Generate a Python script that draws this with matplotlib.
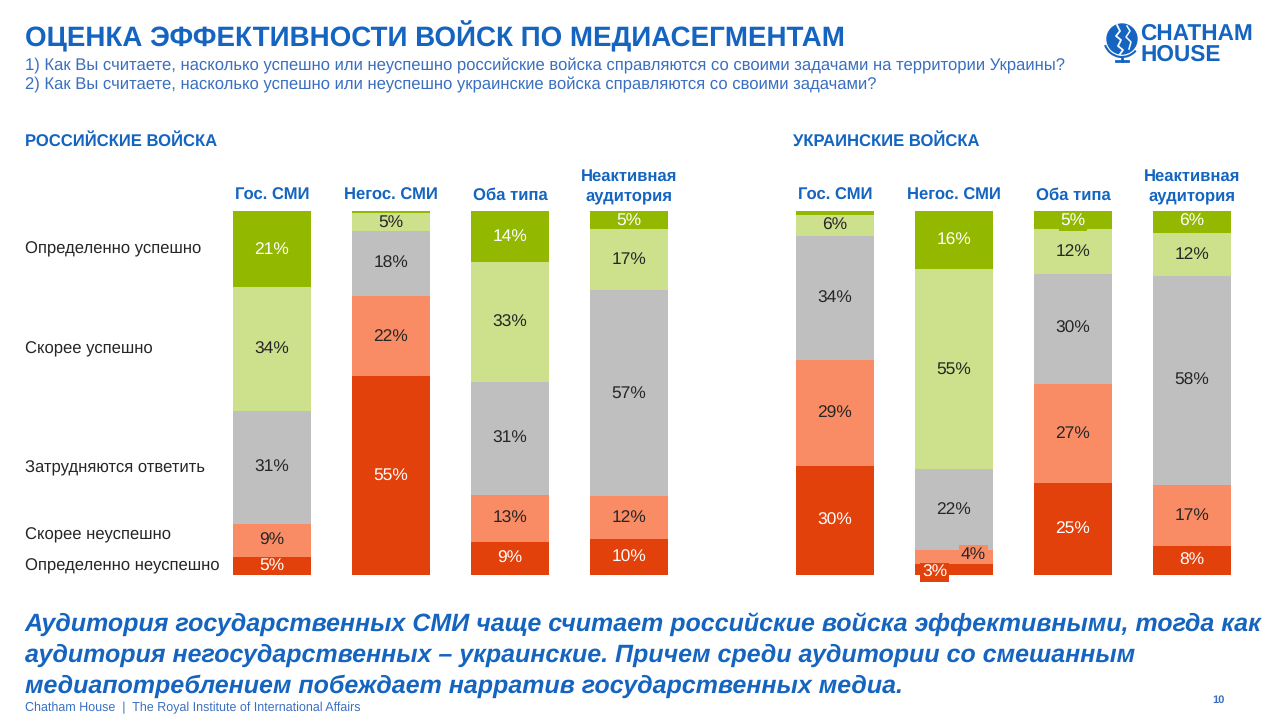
import matplotlib
matplotlib.use("Agg")
import matplotlib.pyplot as plt
import numpy as np
from matplotlib.patches import Circle, Arc

plt.rcParams['font.family'] = ['Liberation Sans', 'DejaVu Sans']
plt.rcParams['text.hinting'] = 'no_hinting'
plt.rcParams['text.hinting_factor'] = 8

# ---------------- data ----------------
groups = ["Гос. СМИ", "Негос. СМИ", "Оба типа", "Неактивная\nаудитория"]
categories = ["Определенно неуспешно", "Скорее неуспешно", "Затрудняются ответить",
              "Скорее успешно", "Определенно успешно"]
# values per category (bottom -> top), per group
rus_def_fail = [5, 55, 9, 10]
rus_rather_fail = [9, 22, 13, 12]
rus_hard = [31, 18, 31, 57]
rus_rather_ok = [34, 5, 33, 17]
rus_def_ok = [21, 0.6, 14, 5]

ukr_def_fail = [30, 3, 25, 8]
ukr_rather_fail = [29, 4, 27, 17]
ukr_hard = [34, 22, 30, 58]
ukr_rather_ok = [6, 55, 12, 12]
ukr_def_ok = [1, 16, 5, 6]

colors = ["#E2410B", "#F98C65", "#BFBFBF", "#CDE08C", "#93B800"]
text_colors = ["white", "#262626", "#262626", "#262626", "white"]
BLUE = "#1565C0"
LBLUE = "#3A6FC0"

W, H = 1280, 720
fig = plt.figure(figsize=(12.8, 7.2), dpi=100)


def fx(px):
    return px / W


def fy(py):
    return 1 - py / H


def draw_panel(left_px, series, label_offsets):
    ax = fig.add_axes([fx(left_px), fy(575), 476 / W, 364 / H])
    data = np.array(series, dtype=float)  # cat x group
    totals = data.sum(axis=0)
    pct = data / totals * 100
    x = np.arange(len(groups))
    bottom = np.zeros(len(groups))
    for ci in range(len(categories)):
        ax.bar(x, pct[ci], bottom=bottom, width=0.655, color=colors[ci],
               edgecolor='none')
        for gi in range(len(groups)):
            v = data[ci, gi]
            if v >= 2.5:
                yc = bottom[gi] + pct[ci, gi] / 2
                key = (ci, gi)
                if key in label_offsets:
                    dx, dy = label_offsets[key]
                    ax.annotate(f"{v:.0f}%", (x[gi], yc), xytext=(dx, dy),
                                textcoords='offset points', ha='center', va='center',
                                fontsize=12.5, color=text_colors[ci],
                                bbox=dict(boxstyle='square,pad=0.1', fc=colors[ci], ec='none'))
                else:
                    ax.text(x[gi], yc, f"{v:.0f}%", ha='center', va='center',
                            fontsize=12.5, color=text_colors[ci])
        bottom += pct[ci]
    ax.set_xlim(-0.5, len(groups) - 0.5)
    ax.set_ylim(0, 100)
    ax.axis('off')
    for gi, g in enumerate(groups):
        ax.text(x[gi], 102.0, g, ha='center', va='bottom', fontsize=12,
                fontweight='bold', color=BLUE, linespacing=1.3)
    return ax, pct


ax_r, pct_r = draw_panel(212.5, [rus_def_fail, rus_rather_fail, rus_hard,
                                 rus_rather_ok, rus_def_ok], {})
ax_u, pct_u = draw_panel(775.5, [ukr_def_fail, ukr_rather_fail, ukr_hard,
                                 ukr_rather_ok, ukr_def_ok],
                         {(0, 1): (-14, -2), (1, 1): (14, 1.5), (4, 2): (0, -0.5)})

# category labels aligned with first Russian bar
cum = np.cumsum(pct_r[:, 0]) - pct_r[:, 0] / 2
label_tweak = [0, 1.5, 0, 0, 0]
for ci, cat in enumerate(categories):
    ax_r.text(-0.5 - (212.5 - 25) / 119, cum[ci] + label_tweak[ci], cat,
              ha='left', va='center', fontsize=12, color='#262626')

# titles
fig.text(fx(25), fy(37), "ОЦЕНКА ЭФФЕКТИВНОСТИ ВОЙСК ПО МЕДИАСЕГМЕНТАМ",
         ha='left', va='center', fontsize=20, fontweight='bold', color=BLUE)
fig.text(fx(25), fy(66), "1) Как Вы считаете, насколько успешно или неуспешно российские войска "
         "справляются со своими задачами на территории Украины?",
         ha='left', va='center', fontsize=12, color=LBLUE)
fig.text(fx(25), fy(85), "2) Как Вы считаете, насколько успешно или неуспешно украинские войска "
         "справляются со своими задачами?",
         ha='left', va='center', fontsize=12, color=LBLUE)
fig.text(fx(25), fy(141), "РОССИЙСКИЕ ВОЙСКА", ha='left', va='center', fontsize=12,
         fontweight='bold', color=BLUE)
fig.text(fx(793), fy(141), "УКРАИНСКИЕ ВОЙСКА", ha='left', va='center', fontsize=12,
         fontweight='bold', color=BLUE)

conclusion = ["Аудитория государственных СМИ чаще считает российские войска эффективными, тогда как",
              "аудитория негосударственных – украинские. Причем среди аудитории со смешанным",
              "медиапотреблением побеждает нарратив государственных медиа."]
for i, line in enumerate(conclusion):
    fig.text(fx(25), fy(624 + 31 * i), line, ha='left', va='center', fontsize=18,
             fontweight='bold', fontstyle='italic', color=BLUE)

fig.text(fx(25), fy(708), "Chatham House  |  The Royal Institute of International Affairs",
         ha='left', va='center', fontsize=9, color=LBLUE)
fig.text(fx(1218), fy(700), "10", ha='center', va='center', fontsize=8,
         fontweight='bold', color=LBLUE)

# logo
fig.text(fx(1140), fy(34), "CHATHAM", ha='left', va='center', fontsize=16.3,
         fontweight='bold', color=BLUE)
fig.text(fx(1140), fy(55), "HOUSE", ha='left', va='center', fontsize=16.3,
         fontweight='bold', color=BLUE)
lax = fig.add_axes([fx(1100), fy(64), 44 / W, 44 / H])
lax.set_xlim(0, 44)
lax.set_ylim(0, 44)
lax.set_aspect('equal')
lax.axis('off')
lax.add_patch(Circle((22, 25), 15, color=BLUE))
lax.plot([17, 20, 16, 21, 18, 23, 20], [39, 33, 28, 24, 18, 14, 10], color='white', lw=1.3)
lax.plot([27, 30, 26, 31, 29], [38, 33, 27, 22, 15], color='white', lw=1.1)
lax.add_patch(Arc((22, 25), 36, 36, theta1=200, theta2=320, color=BLUE, lw=1.5))
lax.plot([22, 22], [7, 3], color=BLUE, lw=2)
lax.plot([16, 28], [3, 3], color=BLUE, lw=2)

fig.savefig("out.png", dpi=100)
